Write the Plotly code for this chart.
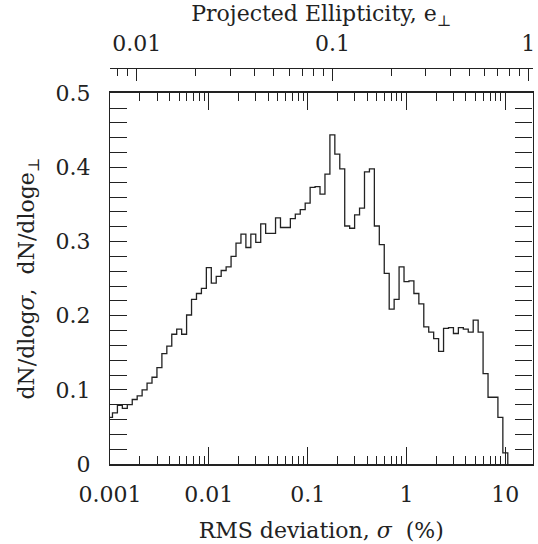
import numpy as np
import plotly.graph_objects as go

# ---- data ----
first_center_log_sigma = -3.0   # log10 of the first bin centre (sigma in %)
bin_width_dex = 0.05            # 20 bins per decade
density = [
    0.063, 0.069, 0.079, 0.075, 0.080, 0.087, 0.092, 0.100, 0.109, 0.117,
    0.130, 0.149, 0.159, 0.175, 0.182, 0.175, 0.201, 0.222, 0.230, 0.237,
    0.265, 0.244, 0.253, 0.261, 0.266, 0.280, 0.298, 0.310, 0.292, 0.310,
    0.299, 0.324, 0.311, 0.311, 0.332, 0.319, 0.319, 0.331, 0.337, 0.343,
    0.352, 0.373, 0.374, 0.364, 0.391, 0.444, 0.418, 0.398, 0.321, 0.318,
    0.336, 0.345, 0.394, 0.398, 0.321, 0.296, 0.257, 0.209, 0.222, 0.266,
    0.246, 0.247, 0.230, 0.216, 0.185, 0.178, 0.169, 0.152, 0.183, 0.184,
    0.176, 0.184, 0.182, 0.178, 0.194, 0.178, 0.122, 0.090, 0.090, 0.063,
    0.015,
]

sigma_range_log = [-3.0, 1.275]
e_range_log = [-2.137, 0.022]
y_range = [0, 0.5]

sigma_tick_vals = [0.001, 0.01, 0.1, 1, 10]
sigma_tick_text = ["0.001", "0.01", "0.1", "1", "10"]
e_tick_vals = [0.01, 0.1, 1]
e_tick_text = ["0.01", "0.1", "1"]

# ---- build step outline ----
n = len(density)
edges = 10 ** (first_center_log_sigma - bin_width_dex / 2 + bin_width_dex * np.arange(n + 1))
xs = list(edges)
ys = list(density) + [0.0]


def minor_vals(lo_log, hi_log):
    vals = []
    for d in range(int(np.floor(lo_log)), int(np.ceil(hi_log)) + 1):
        for m in range(2, 10):
            v = m * 10.0 ** d
            if lo_log <= np.log10(v) <= hi_log:
                vals.append(v)
    return vals


INK = "#222222"
FONT = "DejaVu Serif"
FS = 22

fig = go.Figure()
fig.add_trace(go.Scatter(
    x=xs, y=ys, mode="lines", line=dict(shape="hv", color=INK, width=1.3),
    showlegend=False, hoverinfo="skip",
))
# empty trace to instantiate the top (ellipticity) axis
fig.add_trace(go.Scatter(x=[None], y=[None], xaxis="x2", yaxis="y",
                         mode="lines", showlegend=False, hoverinfo="skip"))

L, R, T, B = 110, 2, 68, 80
plot_w = 538 - L - R
plot_h = 544 - T - B
x_frac = (532.5 - L) / plot_w
top_frac = (464.0 - 93.3) / plot_h

fig.update_layout(
    width=538, height=544,
    margin=dict(l=L, r=R, t=T, b=B, autoexpand=False),
    paper_bgcolor="white", plot_bgcolor="white",
    font=dict(family=FONT, size=FS, color=INK),
    xaxis=dict(
        type="log", range=sigma_range_log, domain=[0, x_frac],
        automargin=False,
        tickvals=sigma_tick_vals, ticktext=sigma_tick_text,
        ticks="inside", ticklen=17, tickwidth=1, tickcolor=INK,
        minor=dict(tickvals=minor_vals(*sigma_range_log), ticks="inside",
                   ticklen=8, tickwidth=1, tickcolor=INK, showgrid=False),
        showline=True, linecolor=INK, linewidth=1.8, mirror="allticks",
        showgrid=False, zeroline=False,
        ticklabelstandoff=10,
        title=dict(text="RMS deviation, <i>σ</i>\u00a0 (%)", standoff=16,
                   font=dict(size=FS)),
    ),
    xaxis2=dict(
        type="log", range=e_range_log, overlaying="x", anchor="free",
        position=1.0, side="top", domain=[0, 1], automargin=False,
        tickvals=e_tick_vals, ticktext=e_tick_text,
        ticks="inside", ticklen=12, tickwidth=1, tickcolor=INK,
        minor=dict(tickvals=minor_vals(*e_range_log), ticks="inside",
                   ticklen=7, tickwidth=1, tickcolor=INK, showgrid=False),
        showline=True, linecolor=INK, linewidth=1.2,
        showgrid=False, zeroline=False,
        ticklabelstandoff=8, ticklabeloverflow="allow",
        title=dict(text="Projected Ellipticity, e<sub>⊥</sub>", standoff=2,
                   font=dict(size=FS)),
    ),
    yaxis=dict(
        range=y_range, domain=[0, top_frac], automargin=False,
        dtick=0.1, tick0=0,
        ticks="inside", ticklen=17, tickwidth=1, tickcolor=INK,
        minor=dict(dtick=0.02, ticks="inside", ticklen=8, tickwidth=1,
                   tickcolor=INK, showgrid=False),
        showline=True, linecolor=INK, linewidth=1.3, mirror="allticks",
        showgrid=False, zeroline=False,
        ticklabelstandoff=14,
        title=dict(text="dN/dlog<i>σ</i>,\u00a0 dN/dloge<sub>⊥</sub>",
                   standoff=14, font=dict(size=FS)),
    ),
)

fig.write_html("out.html")
